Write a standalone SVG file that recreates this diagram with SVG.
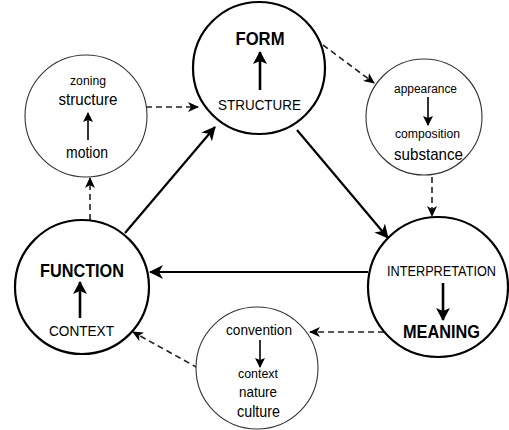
<svg xmlns="http://www.w3.org/2000/svg" width="509" height="430" viewBox="0 0 509 430">
<style>
.big{fill:#fff;stroke:#000;stroke-width:2.2}
.small{fill:#fff;stroke:#333;stroke-width:1.1}
.t{font-family:"Liberation Sans",Arial,sans-serif;fill:#000;text-anchor:middle}
.b{font-weight:bold}
.solid{fill:none;stroke:#000;stroke-width:2.2}
.dash{fill:none;stroke:#222;stroke-width:1.6;stroke-dasharray:6 4}
.inner{fill:none;stroke:#000;stroke-width:2.6}
.innersm{fill:none;stroke:#000;stroke-width:1.6}
</style>
<defs>
<marker id="ah" markerUnits="userSpaceOnUse" markerWidth="16" markerHeight="14" refX="13" refY="7" orient="auto">
<path d="M0,0 L14,7 L0,14 L4,7 z" fill="#000"/>
</marker>
<marker id="ahd" markerUnits="userSpaceOnUse" markerWidth="12" markerHeight="10" refX="10" refY="5" orient="auto">
<path d="M0,0 L11,5 L0,10 L3,5 z" fill="#000"/>
</marker>
<marker id="ahi" markerUnits="userSpaceOnUse" markerWidth="14" markerHeight="14" refX="12" refY="7" orient="auto">
<path d="M0,0 L13,7 L0,14 L3,7 z" fill="#000"/>
</marker>
<marker id="ahs" markerUnits="userSpaceOnUse" markerWidth="10" markerHeight="10" refX="9" refY="5" orient="auto">
<path d="M0,0 L10,5 L0,10 L2,5 z" fill="#000"/>
</marker>
</defs>

<g id="connectors">
<line class="solid" x1="125" y1="233" x2="215" y2="127" marker-end="url(#ah)"/>
<line class="solid" x1="297" y1="130" x2="388" y2="238" marker-end="url(#ah)"/>
<line class="solid" x1="368" y1="272" x2="150" y2="272" marker-end="url(#ah)"/>
<line class="dash" x1="90" y1="220" x2="90" y2="178" marker-end="url(#ahd)"/>
<line class="dash" x1="146" y1="107" x2="198" y2="107" marker-end="url(#ahd)"/>
<line class="dash" x1="323" y1="45" x2="374" y2="83" marker-end="url(#ahd)"/>
<line class="dash" x1="432" y1="177" x2="432" y2="216" marker-end="url(#ahd)"/>
<line class="dash" x1="384" y1="332" x2="310" y2="332" marker-end="url(#ahd)"/>
<line class="dash" x1="198" y1="368" x2="133" y2="332" marker-end="url(#ahd)"/>
</g>

<g id="form">
<circle class="big" cx="259" cy="68" r="66"/>
<text class="t b" x="260" y="45" font-size="18" textLength="49" lengthAdjust="spacingAndGlyphs">FORM</text>
<line class="inner" x1="260" y1="90" x2="260" y2="52" marker-end="url(#ahi)"/>
<text class="t" x="259.5" y="110" font-size="15.5" textLength="83" lengthAdjust="spacingAndGlyphs">STRUCTURE</text>
</g>

<g id="function">
<circle class="big" cx="82" cy="287" r="67"/>
<text class="t b" x="82" y="277" font-size="18" textLength="84" lengthAdjust="spacingAndGlyphs">FUNCTION</text>
<line class="inner" x1="80" y1="318" x2="80" y2="282" marker-end="url(#ahi)"/>
<text class="t" x="81.5" y="336" font-size="15.5" textLength="65" lengthAdjust="spacingAndGlyphs">CONTEXT</text>
</g>

<g id="meaning">
<circle class="big" cx="438" cy="287" r="70"/>
<text class="t" x="441.5" y="276" font-size="15.5" textLength="109" lengthAdjust="spacingAndGlyphs">INTERPRETATION</text>
<line class="inner" x1="443" y1="283" x2="443" y2="320" marker-end="url(#ahi)"/>
<text class="t b" x="441.5" y="338" font-size="18" textLength="77" lengthAdjust="spacingAndGlyphs">MEANING</text>
</g>

<g id="zoning">
<circle class="small" cx="86" cy="116" r="61"/>
<text class="t" x="88" y="85" font-size="12" textLength="36" lengthAdjust="spacingAndGlyphs">zoning</text>
<text class="t" x="88" y="105" font-size="17" textLength="59" lengthAdjust="spacingAndGlyphs">structure</text>
<line class="innersm" x1="88" y1="140" x2="88" y2="113" marker-end="url(#ahs)"/>
<text class="t" x="87" y="158" font-size="16.5" textLength="42" lengthAdjust="spacingAndGlyphs">motion</text>
</g>

<g id="appearance">
<circle class="small" cx="424" cy="117" r="58"/>
<text class="t" x="425.5" y="93" font-size="12.5" textLength="63" lengthAdjust="spacingAndGlyphs">appearance</text>
<line class="innersm" x1="428" y1="97" x2="428" y2="125" marker-end="url(#ahs)"/>
<text class="t" x="427.5" y="138" font-size="12.5" textLength="65" lengthAdjust="spacingAndGlyphs">composition</text>
<text class="t" x="428.5" y="160" font-size="17" textLength="69" lengthAdjust="spacingAndGlyphs">substance</text>
</g>

<g id="convention">
<circle class="small" cx="257" cy="368" r="61"/>
<text class="t" x="259" y="335" font-size="15.5" textLength="66" lengthAdjust="spacingAndGlyphs">convention</text>
<line class="innersm" x1="260" y1="340" x2="260" y2="367" marker-end="url(#ahs)"/>
<text class="t" x="258" y="378" font-size="13" textLength="40" lengthAdjust="spacingAndGlyphs">context</text>
<text class="t" x="258" y="397" font-size="15.5" textLength="38" lengthAdjust="spacingAndGlyphs">nature</text>
<text class="t" x="258.5" y="417" font-size="16.5" textLength="43" lengthAdjust="spacingAndGlyphs">culture</text>
</g>
</svg>
